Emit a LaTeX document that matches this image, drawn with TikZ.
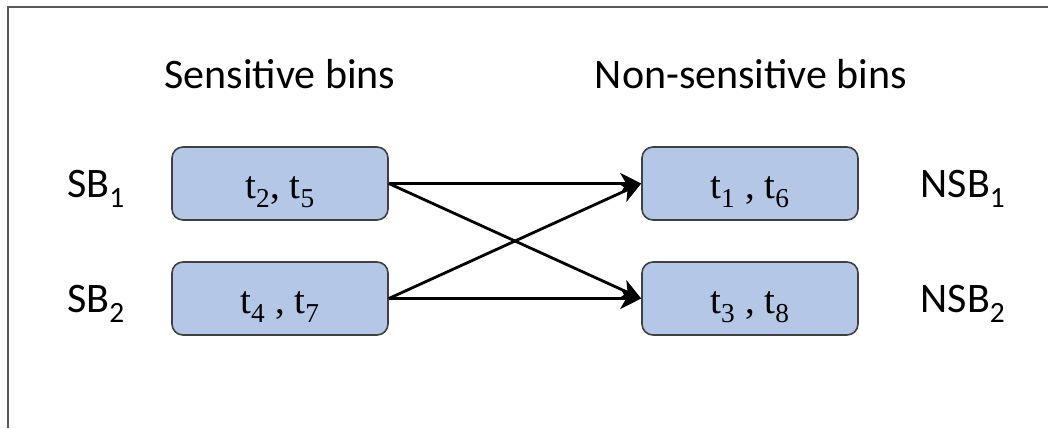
\documentclass[tikz,border=0pt]{standalone}
\usepackage{fontspec}
\setmainfont{Liberation Serif}
\newfontfamily\labelfont{Carlito}
\usetikzlibrary{arrows.meta}
\newcommand{\sbs}[1]{\textsubscript{#1}}
\begin{document}
\begin{tikzpicture}[x=1pt,y=-1pt,
  bin/.style={draw=black!75, line width=1.6pt, fill={rgb,255:red,180;green,199;blue,231},
    rounded corners=11pt, minimum width=216pt, minimum height=73pt, inner sep=0pt},
  bintext/.style={font=\fontsize{39}{41}\selectfont, inner sep=0pt, anchor=base},
  tag/.style={font=\labelfont\fontsize{42}{44}\selectfont, inner sep=0pt, anchor=base},
  link/.style={line width=2.8pt, -{Stealth[length=21pt,width=21pt,inset=6pt]}}]
\useasboundingbox (0,0) rectangle (1048,428);
% open frame along the top and left
\draw[black!65, line width=2.5pt] (1048,7) -- (8,7) -- (8,428);
% column headings
\node[tag] (hs) at (280,88) {Sensitive bins};
\node[tag] (hn) at (751,88) {Non-sensitive bins};
% bins
\node[bin] (s1) at (280,183.5) {};
\node[bin] (s2) at (280,298.5) {};
\node[bin] (n1) at (750,183.5) {};
\node[bin] (n2) at (750,298.5) {};
\node[bintext] (s1t) at (280,198) {t\sbs{2}, t\sbs{5}};
\node[bintext] (s2t) at (280,313) {t\sbs{4} , t\sbs{7}};
\node[bintext] (n1t) at (750,198) {t\sbs{1} , t\sbs{6}};
\node[bintext] (n2t) at (750,313) {t\sbs{3} , t\sbs{8}};
% bin names
\node[tag] (l1) at (96,197) {SB\sbs{1}};
\node[tag] (l2) at (96,312) {SB\sbs{2}};
\node[tag] (r1) at (963,197) {NSB\sbs{1}};
\node[tag] (r2) at (963,312) {NSB\sbs{2}};
% mapping
\draw[link] (s1.east) -- (n1.west);
\draw[link] (s1.east) -- (n2.west);
\draw[link] (s2.east) -- (n1.west);
\draw[link] (s2.east) -- (n2.west);
\end{tikzpicture}
\end{document}
